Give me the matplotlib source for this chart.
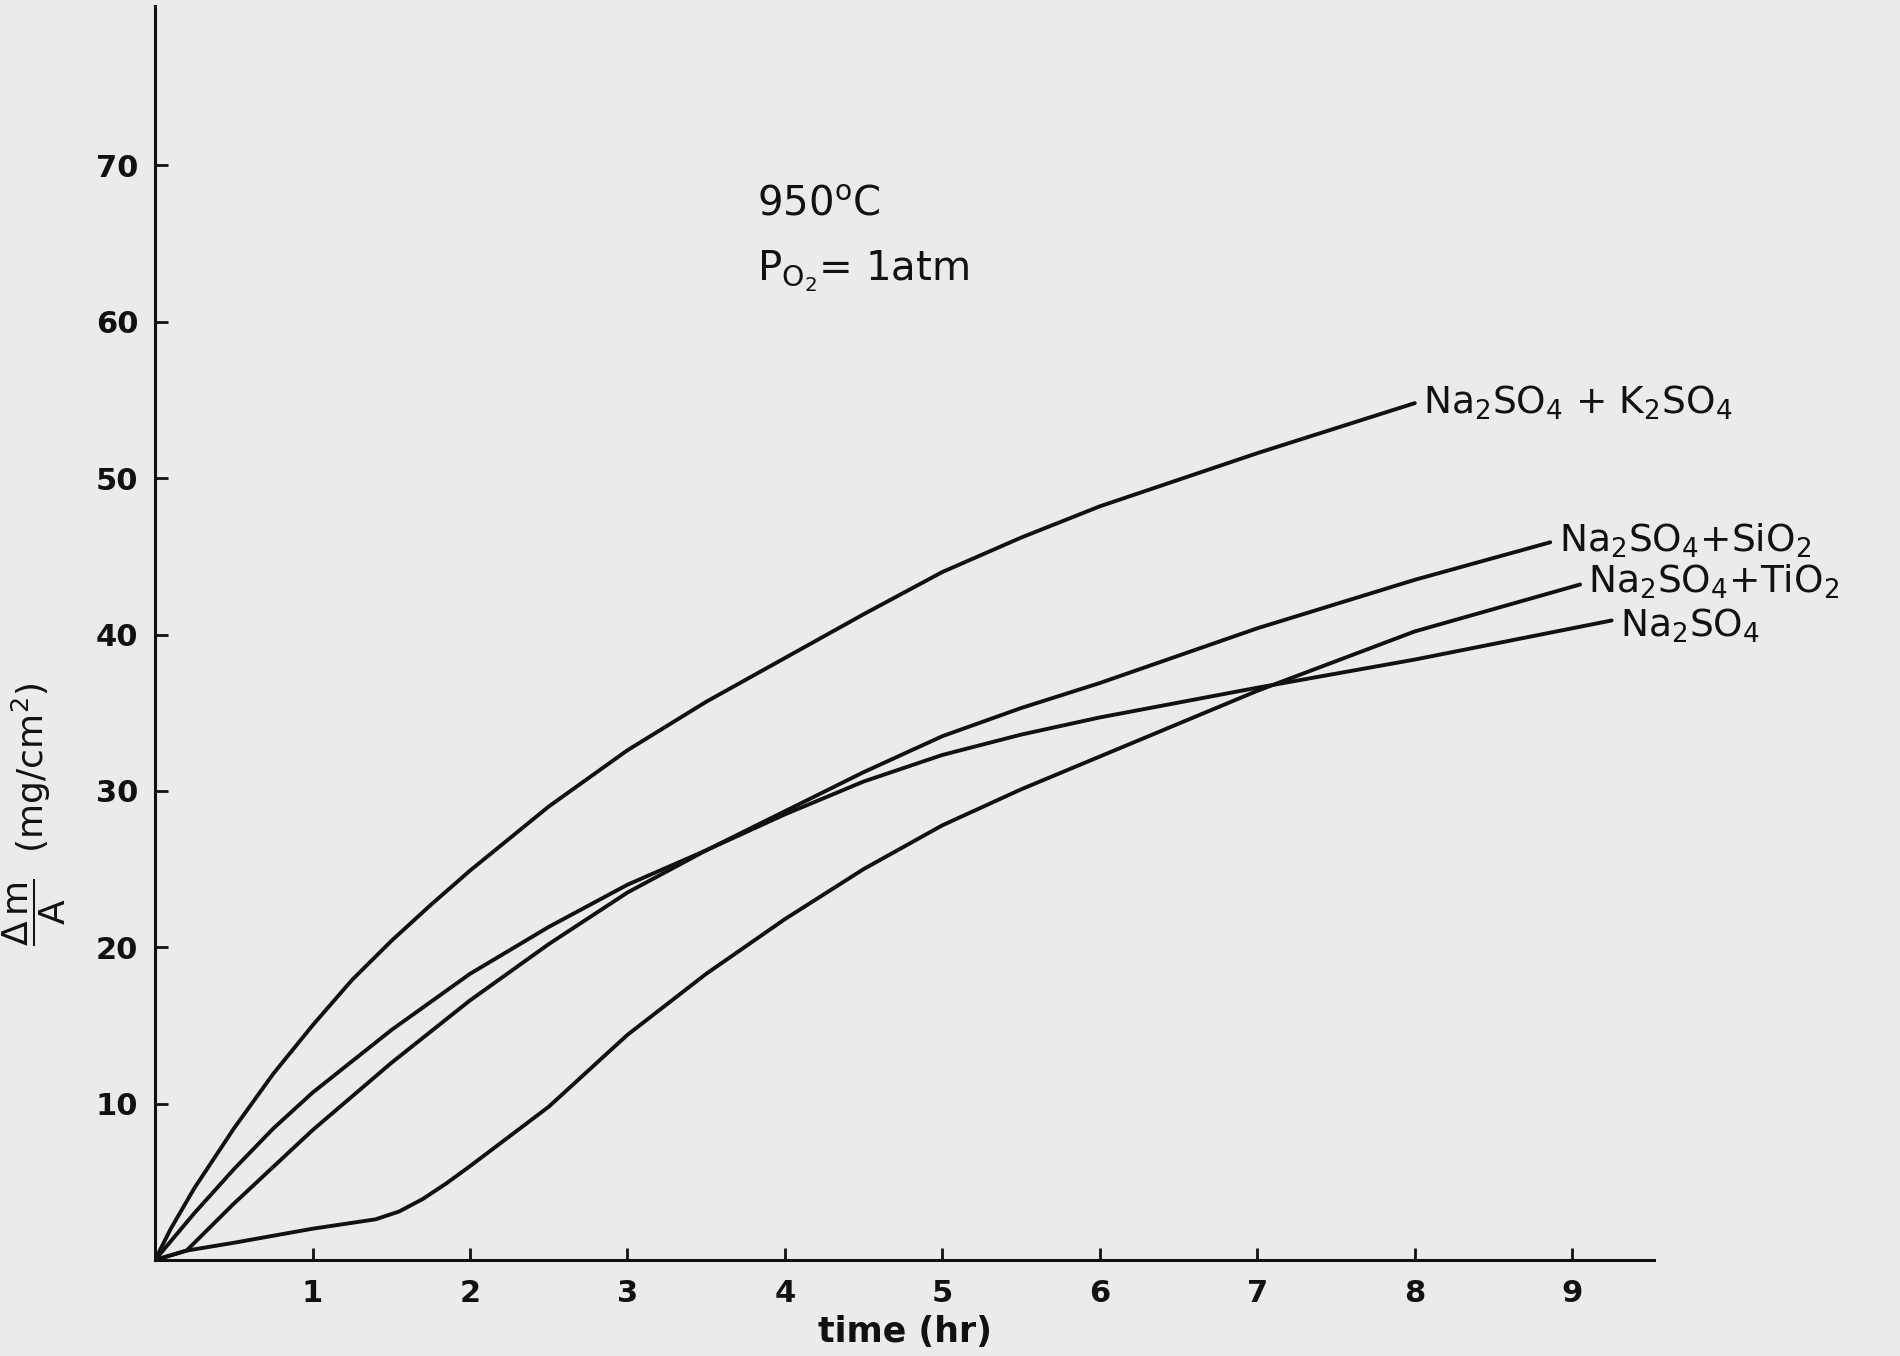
import matplotlib
matplotlib.use('Agg')
import matplotlib.pyplot as plt

plt.rcParams['mathtext.default'] = 'regular'
plt.rcParams['font.family'] = ['DejaVu Sans']

# values (time in hr, mass gain in mg/cm2)
t_k2so4 = [0, 0.1, 0.25, 0.5, 0.75, 1, 1.25, 1.5, 1.75, 2, 2.5, 3, 3.5, 4, 4.5, 5, 5.5, 6, 6.5, 7, 7.5, 8]
m_k2so4 = [0, 2.0, 4.6, 8.4, 11.9, 15.0, 17.9, 20.4, 22.7, 24.9, 29.0, 32.6, 35.7, 38.5, 41.3, 44.0, 46.2, 48.2, 49.9, 51.6, 53.2, 54.8]

t_sio2 = [0, 0.2, 0.5, 1, 1.5, 2, 2.5, 3, 3.5, 4, 4.5, 5, 5.5, 6, 7, 8, 8.86]
m_sio2 = [0, 0.6, 3.6, 8.3, 12.6, 16.6, 20.2, 23.5, 26.2, 28.7, 31.2, 33.5, 35.3, 36.9, 40.4, 43.5, 45.9]

t_tio2 = [0, 0.2, 0.5, 1, 1.4, 1.55, 1.7, 1.85, 2, 2.5, 3, 3.5, 4, 4.5, 5, 5.5, 6, 7, 8, 9.05]
m_tio2 = [0, 0.6, 1.1, 2.0, 2.6, 3.1, 3.9, 4.9, 6.0, 9.8, 14.4, 18.3, 21.8, 25.0, 27.8, 30.1, 32.2, 36.4, 40.2, 43.2]

t_na2so4 = [0, 0.25, 0.5, 0.75, 1, 1.5, 2, 2.5, 3, 3.5, 4, 4.5, 5, 5.5, 6, 7, 8, 9.25]
m_na2so4 = [0, 3.0, 5.8, 8.4, 10.7, 14.7, 18.3, 21.3, 24.0, 26.2, 28.5, 30.6, 32.3, 33.6, 34.7, 36.6, 38.4, 40.9]

curve_labels = [r'Na$_2$SO$_4$ + K$_2$SO$_4$', r'Na$_2$SO$_4$+SiO$_2$',
                r'Na$_2$SO$_4$+TiO$_2$', r'Na$_2$SO$_4$']
x_ticks = [1, 2, 3, 4, 5, 6, 7, 8, 9]
y_ticks = [10, 20, 30, 40, 50, 60, 70]

paper = '#ebebea'
ink = '#111111'

fig = plt.figure(figsize=(19, 13.56), dpi=100, facecolor=paper)
ax = fig.add_axes([0.0816, 0.0708, 0.789, 0.9248])
ax.set_facecolor(paper)

series = [(t_k2so4, m_k2so4), (t_sio2, m_sio2), (t_tio2, m_tio2), (t_na2so4, m_na2so4)]
label_offsets = [(6, 0), (6, 1), (6, 2), (6, -4)]  # points, label placement only
for (t, m), lab, off in zip(series, curve_labels, label_offsets):
    ax.plot(t, m, color=ink, lw=2.8, solid_capstyle='round', solid_joinstyle='round')
    ax.annotate(lab, (t[-1], m[-1]), xytext=off, textcoords='offset points',
                fontsize=27, color=ink, va='center', ha='left')

ax.set_xlim(0, 9.52)
ax.set_ylim(0, 80.2)
ax.set_xticks(x_ticks)
ax.set_yticks(y_ticks)
ax.tick_params(axis='both', direction='in', length=9, width=2, colors=ink,
               labelsize=22)
ax.tick_params(axis='x', pad=14)
ax.tick_params(axis='y', pad=12)
for lbl in ax.get_xticklabels() + ax.get_yticklabels():
    lbl.set_fontweight('bold')

for side in ['top', 'right']:
    ax.spines[side].set_visible(False)
for side in ['left', 'bottom']:
    ax.spines[side].set_linewidth(2.2)
    ax.spines[side].set_color(ink)

ax.set_xlabel('time (hr)', fontsize=25, fontweight='bold', color=ink)
ax.xaxis.set_label_coords(0.5, -0.044)
ax.set_ylabel(r'$\dfrac{\Delta\, m}{A}$  (mg/cm$^2$)', fontsize=26, color=ink)
ax.yaxis.set_label_coords(-0.058, 0.355)

ax.text(3.82, 67.5, r'950$^o$C', fontsize=29, color=ink, va='center')
ax.text(3.82, 63.2, r'P$_{O_2}$= 1atm', fontsize=29, color=ink, va='center')

fig.savefig('out.png', dpi=100, facecolor=paper)
